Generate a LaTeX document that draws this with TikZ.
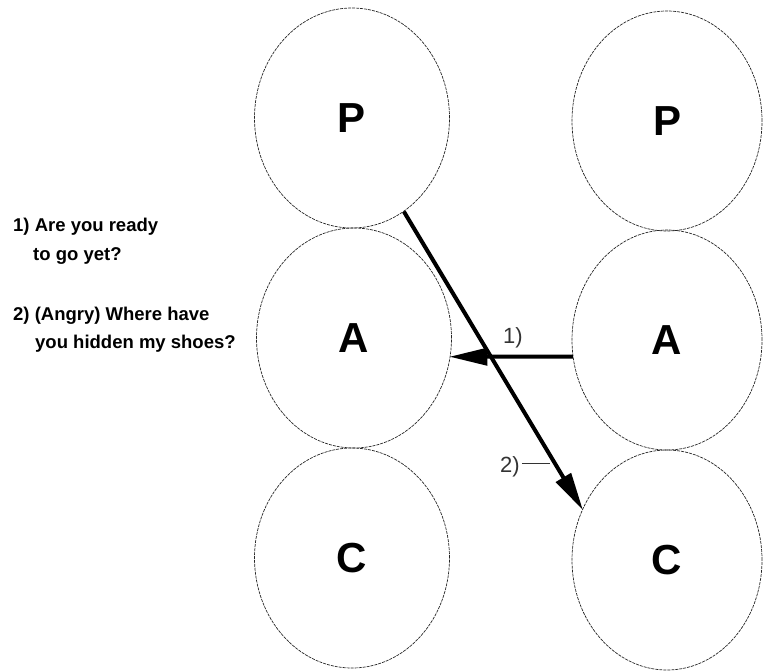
\documentclass[tikz,border=0pt]{standalone}
\usepackage{fontspec}
\setmainfont{Liberation Sans}
\usetikzlibrary{shapes.geometric,arrows.meta}
\tikzset{
  ego/.style={ellipse, draw=black!85, line width=0.7pt, dash pattern=on 3pt off 1pt,
    minimum height=220pt, inner sep=0pt, font=\fontsize{42}{46}\selectfont\bfseries},
  egoL/.style={ego, minimum width=195pt},
  egoR/.style={ego, minimum width=190pt},
  trans/.style={line width=4pt, -{Triangle[length=38pt,width=17pt]}, shorten >=-1pt},
  side/.style={anchor=base west, font=\fontsize{18.5}{20}\selectfont\bfseries, inner sep=0pt},
  lab/.style={font=\fontsize{22}{24}\selectfont, text=black!80, inner sep=0pt}
}
\begin{document}
\begin{tikzpicture}[x=1pt,y=-1pt]
\useasboundingbox (0,0) rectangle (770,671);
\node[egoL] (LP) at (352,118) {P};
\node[egoL] (LA) at (354,338) {A};
\node[egoL] (LC) at (352,558) {C};
\node[egoR] (RP) at (667,121) {P};
\node[egoR] (RA) at (667,340) {A};
\node[egoR] (RC) at (667,560) {C};
\draw[trans] (RA.190) -- (LA.-11);
\draw[trans] (LP.-61) -- (RC.149);
\node[lab] (one) at (513,338) {1)};
\node[lab] (two) at (510,467) {2)};
\coordinate (twoend) at (550,463);
\draw[line width=0.6pt, black!80] (two.east |- twoend) ++(2,0) -- (twoend);
\node[side] (t1) at (13,231) {1) Are you ready};
\node[side] (t2) at (33,260) {to go yet?};
\node[side] (t3) at (13,320) {2) (Angry) Where have};
\node[side] (t4) at (35,348) {you hidden my shoes?};
\end{tikzpicture}
\end{document}
